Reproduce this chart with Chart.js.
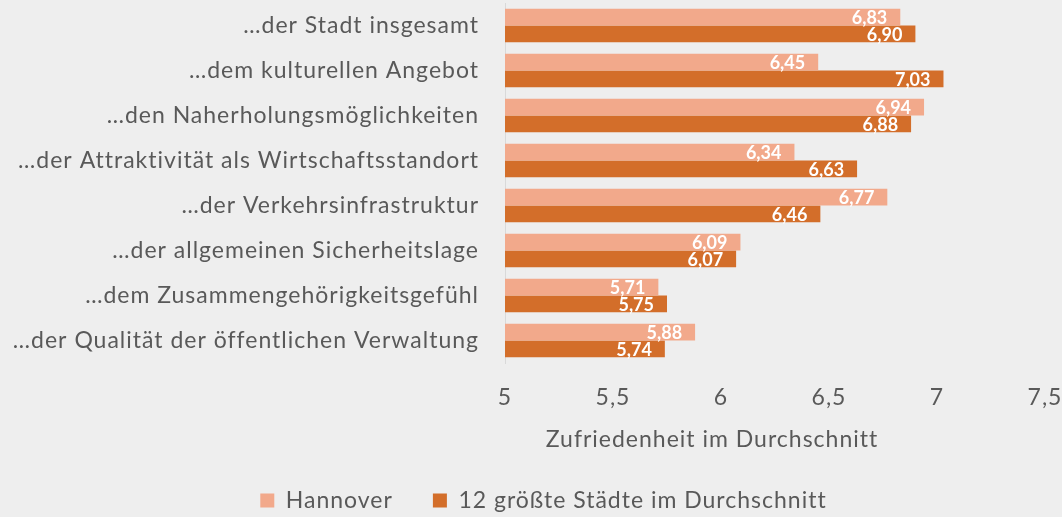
<!DOCTYPE html>
<html>
<head>
<meta charset="utf-8">
<script src="https://cdn.jsdelivr.net/npm/chart.js@4"></script>
<style>
  html, body { margin: 0; padding: 0; background: #eeeeee; }
  #wrap { width: 1062px; height: 517px; position: relative; }
</style>
</head>
<body>
<div id="wrap"><canvas id="chart"></canvas></div>
<script>
const categories = [
  "…der Stadt insgesamt",
  "…dem kulturellen Angebot",
  "…den Naherholungsmöglichkeiten",
  "…der Attraktivität als Wirtschaftsstandort",
  "…der Verkehrsinfrastruktur",
  "…der allgemeinen Sicherheitslage",
  "…dem Zusammengehörigkeitsgefühl",
  "…der Qualität der öffentlichen Verwaltung"
]
const hannover = [6.83, 6.45, 6.94, 6.34, 6.77, 6.09, 5.71, 5.88]
const staedte = [6.90, 7.03, 6.88, 6.63, 6.46, 6.07, 5.75, 5.74]
const seriesNames = ["Hannover", "12 größte Städte im Durchschnitt"]
const xTitle = "Zufriedenheit im Durchschnitt"

const textColor = "#595959"
const fontFamily = "Lato, sans-serif"

// the original text is set a little wider, so space the letters out
const spacing = {
  id: "spacing",
  beforeLayout(chart) { chart.ctx.letterSpacing = "1px" },
  beforeDraw(chart) { chart.ctx.letterSpacing = "1px" },
  afterLayout(chart) {
    // legend sits a bit right of the canvas centre in the original
    chart.legend.left += 21
    chart.legend.right += 21
  }
}

// axis title is not centred under the plot in the original, draw it here
const axisTitle = {
  id: "axisTitle",
  afterDraw(chart) {
    const ctx = chart.ctx
    const area = chart.chartArea
    ctx.save()
    ctx.fillStyle = textColor
    ctx.font = "23px " + fontFamily
    ctx.textAlign = "center"
    ctx.textBaseline = "middle"
    ctx.fillText(xTitle, area.left + 207, area.bottom + 77)
    ctx.restore()
  }
}

// white values drawn inside the end of each bar
const barValues = {
  id: "barValues",
  afterDatasetsDraw(chart) {
    const ctx = chart.ctx
    ctx.save()
    ctx.letterSpacing = "0px"
    ctx.fillStyle = "#ffffff"
    ctx.font = "bold 18px " + fontFamily
    ctx.textAlign = "right"
    ctx.textBaseline = "middle"
    chart.data.datasets.forEach((ds, i) => {
      chart.getDatasetMeta(i).data.forEach((bar, j) => {
        const txt = ds.data[j].toFixed(2).replace(".", ",")
        ctx.fillText(txt, bar.x - 13, bar.y + 1)
      })
    })
    ctx.restore()
  }
}

new Chart(document.getElementById("chart"), {
  type: "bar",
  data: {
    labels: categories,
    datasets: [
      {
        label: seriesNames[0],
        data: hannover,
        backgroundColor: "#f2a98b",
        borderWidth: 0,
        categoryPercentage: 0.74,
        barPercentage: 1.0
      },
      {
        label: seriesNames[1],
        data: staedte,
        backgroundColor: "#d36e2a",
        borderWidth: 0,
        categoryPercentage: 0.74,
        barPercentage: 1.0
      }
    ]
  },
  options: {
    indexAxis: "y",
    responsive: true,
    maintainAspectRatio: false,
    animation: false,
    layout: { padding: { top: 3, right: 17, bottom: 0, left: 0 } },
    scales: {
      x: {
        min: 5,
        max: 7.5,
        ticks: {
          stepSize: 0.5,
          color: textColor,
          font: { family: fontFamily, size: 23 },
          padding: 13,
          callback: v => String(v).replace(".", ",")
        },
        grid: { display: false },
        border: { display: false },
        afterFit: s => {
          s.height = 86
          s.paddingLeft = 0
          s.paddingRight = 0
        }
      },
      y: {
        ticks: {
          color: textColor,
          font: { family: fontFamily, size: 23 },
          padding: 18
        },
        grid: { display: false },
        border: { display: true, color: "#d9d9d9", width: 1 },
        afterFit: s => {
          s.width = 505
          s.paddingTop = 0
          s.paddingBottom = 0
        }
      }
    },
    plugins: {
      legend: {
        position: "bottom",
        maxHeight: 68,
        labels: {
          boxWidth: 14,
          boxHeight: 14,
          padding: 40,
          color: textColor,
          font: { family: fontFamily, size: 23 }
        }
      },
      tooltip: { enabled: false }
    }
  },
  plugins: [spacing, axisTitle, barValues]
})
</script>
</body>
</html>
